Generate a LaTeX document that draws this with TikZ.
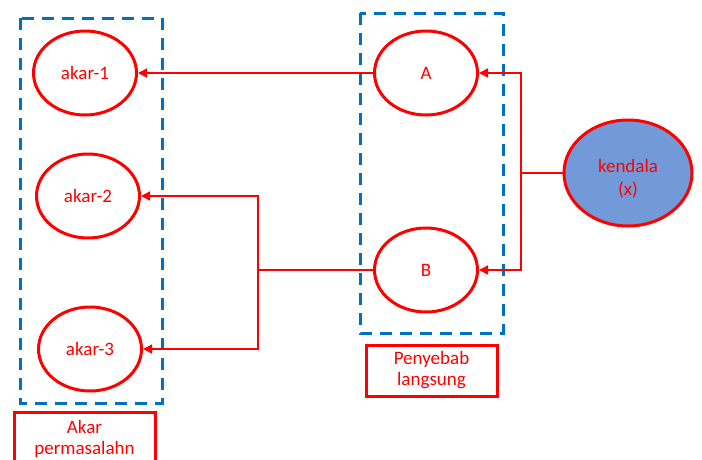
\documentclass[tikz,border=0pt]{standalone}
\usepackage{fontspec}
\setmainfont{Carlito}
\usetikzlibrary{arrows.meta,shapes.geometric}
\definecolor{boxblue}{RGB}{0,112,192}
\definecolor{causefill}{RGB}{114,153,216}
\tikzset{
	cause/.style={ellipse, draw=red, line width=3pt, text=red, minimum width=103pt, minimum height=84pt, inner sep=0pt},
	link/.style={red, line width=1.4pt},
	arr/.style={link, -{Triangle[length=9pt,width=9pt]}},
	grp/.style={boxblue, line width=3pt, dash pattern=on 12pt off 8pt},
	tag/.style={draw=red, line width=3pt, text=red, align=center, inner sep=0pt}
}

\begin{document}
\begin{tikzpicture}[x=1pt, y=-1pt, font=\fontsize{19}{21}\selectfont]
		%%%%% START %%%%%
		\useasboundingbox (0,0) rectangle (702,459);
		
		% dashed groups
		\draw[grp] (20,18) rectangle (162,403);
		\draw[grp] (360,13) rectangle (503,333);
		
		% root causes
		\node[cause] (akar1) at (85,73) {akar-1};
		\node[cause] (akar2) at (88,196) {akar-2};
		\node[cause] (akar3) at (90,349) {akar-3};
		
		% direct causes
		\node[cause] (A) at (426,73) {A};
		\node[cause] (B) at (426,270) {B};
		
		% the problem
		\node[cause, fill=causefill, minimum width=128pt, minimum height=106pt] (kendala) at (628,173) {};
		\node[text=red, align=center, font=\fontsize{19}{23}\selectfont] (kendalatxt) at (628,179) {kendala\\(x)};
		
		% captions
		\node[tag, minimum width=141pt, minimum height=52pt, anchor=north] (akarcap) at (84.5,411) {Akar\\permasalahn};
		\node[tag, minimum width=131pt, minimum height=51pt] (sebabcap) at (431.5,370.5) {Penyebab\\langsung};
		
		% kendala -> A, B
		\coordinate (forkR) at (521,173);
		\draw[link] (kendala.west) -- (forkR);
		\draw[arr] (forkR) |- (A.east);
		\draw[arr] (forkR) |- (B.east);
		
		% A -> akar-1
		\draw[arr] (A.west) -- (akar1.east);
		
		% B -> akar-2, akar-3
		\coordinate (forkL) at (258,270);
		\draw[link] (B.west) -- (forkL);
		\draw[arr] (forkL) |- (akar2.east);
		\draw[arr] (forkL) |- (akar3.east);
		
		%%%%% END %%%%%
	\end{tikzpicture}
\end{document}
